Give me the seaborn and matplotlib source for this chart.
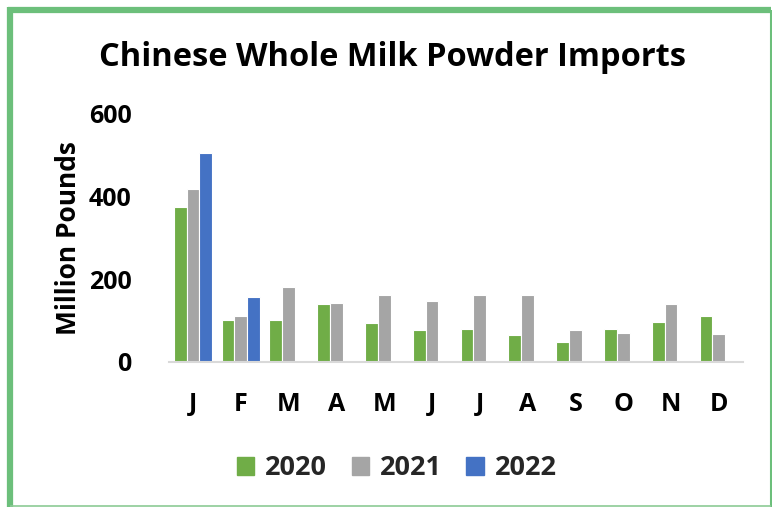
import matplotlib
matplotlib.use("Agg")
import matplotlib.pyplot as plt
from matplotlib.lines import Line2D
from matplotlib.patches import Patch
import seaborn as sns
import pandas as pd
import numpy as np

months = ["J", "F", "M", "A", "M", "J", "J", "A", "S", "O", "N", "D"]
month_keys = ["Jan", "Feb", "Mar", "Apr", "May", "Jun", "Jul", "Aug", "Sep", "Oct", "Nov", "Dec"]
v2020 = [375, 101, 101, 139, 94, 77, 79, 64, 48, 78, 96, 111]
v2021 = [418, 110, 181, 143, 162, 147, 161, 161, 77, 69, 140, 68]
v2022 = [504, 156] + [np.nan] * 10
years = ["2020", "2021", "2022"]
colors = ["#70AD47", "#A5A5A5", "#4472C4"]

rows = []
for yr, vals in zip(years, [v2020, v2021, v2022]):
    for m, v in zip(month_keys, vals):
        rows.append({"Month": m, "Year": yr, "Value": v})
df = pd.DataFrame(rows)

sns.set_theme(style="white")
plt.rcParams["font.family"] = ["Open Sans", "DejaVu Sans"]

fig = plt.figure(figsize=(7.72, 5.08), dpi=100)
ax = fig.add_axes([0.219, 0.288, 0.743, 0.488])

sns.barplot(data=df, x="Month", y="Value", hue="Year", order=month_keys,
            hue_order=years, palette=colors, saturation=1, width=0.8,
            edgecolor="white", linewidth=0.8, ax=ax, legend=False)

ax.set_ylim(0, 600)
ax.set_xlim(-0.5, 11.5)
ax.set_yticks([0, 200, 400, 600])
ax.set_yticklabels(["0", "200", "400", "600"], fontsize=18, fontweight="bold", color="black")
ax.set_xticks(range(12))
ax.set_xticklabels(months, fontsize=18, fontweight="bold", color="black")
ax.tick_params(axis="both", length=0)
ax.tick_params(axis="x", pad=22)
ax.tick_params(axis="y", pad=27)
ax.set_xlabel("")
ax.set_ylabel("Million Pounds", fontsize=19, fontweight="bold", color="black")
ax.yaxis.set_label_coords(-0.176, 0.5)
ax.yaxis.label.set_va("center")
for s in ["top", "right", "left"]:
    ax.spines[s].set_visible(False)
ax.spines["bottom"].set_color("#D9D9D9")
ax.spines["bottom"].set_linewidth(1.5)

fig.text(0.508, 1 - 66 / 508, "Chinese Whole Milk Powder Imports", ha="center", va="baseline",
         fontsize=23.5, fontweight="bold", color="black")

handles = [Patch(facecolor=c, edgecolor=c) for c in colors]
fig.legend(handles, years, loc="center", bbox_to_anchor=(0.514, 0.078), ncol=3,
           frameon=False, prop={"size": 19.5, "weight": "bold"},
           handlelength=0.65, handleheight=0.65, columnspacing=0.9, handletextpad=0.4)

# green frame
green = "#6CBF7B"
fig.add_artist(Line2D([10 / 772, 10 / 772], [0.002, 1 - 7 / 508], transform=fig.transFigure,
                      color=green, linewidth=4.5, solid_capstyle="butt"))
fig.add_artist(Line2D([7.5 / 772, 771 / 772], [1 - 10 / 508, 1 - 10 / 508], transform=fig.transFigure,
                      color=green, linewidth=4.5, solid_capstyle="butt"))
fig.add_artist(Line2D([770.5 / 772, 770.5 / 772], [0.002, 1 - 10 / 508], transform=fig.transFigure,
                      color=green, linewidth=1.5, solid_capstyle="butt"))
fig.add_artist(Line2D([10 / 772, 771 / 772], [2 / 508, 2 / 508], transform=fig.transFigure,
                      color="#8CCB95", linewidth=1.2, solid_capstyle="butt"))

fig.savefig("out.png", dpi=100)
